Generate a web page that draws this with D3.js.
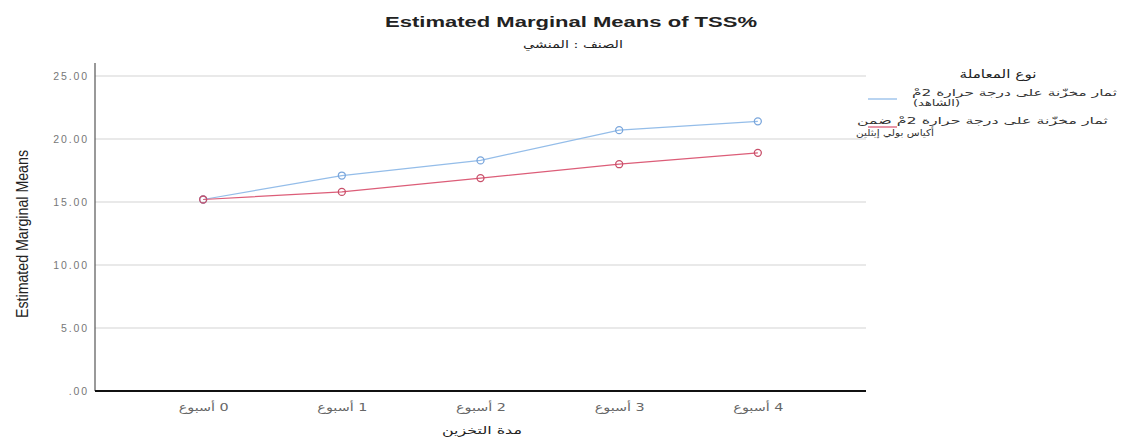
<!DOCTYPE html>
<html><head><meta charset="utf-8">
<script src="https://cdn.jsdelivr.net/npm/d3@7"></script>
<style>body{margin:0;background:#fff}svg{display:block}</style>
</head><body>
<script>
const categories = ["0 أسبوع","1 أسبوع","2 أسبوع","3 أسبوع","4 أسبوع"];
const seriesNames = [
  ["ثمار مخزّنة على درجة حرارة 2مْ", "(الشاهد)"],
  ["ثمار مخزّنة على درجة حرارة 2مْ ضمن", "أكياس بولي إيثلين"]
];
const controlValues = [15.2, 17.1, 18.3, 20.7, 21.4];
const bagValues = [15.2, 15.8, 16.9, 18.0, 18.9];
const yTicks = [0, 5, 10, 15, 20, 25];
const colors = ["#94bde9", "#dc5d78"];

(function(){
const W = 1143, H = 439;
const svg = d3.select("body").append("svg").attr("width", W).attr("height", H);
const pLeft = 95, pRight = 866, pTop = 63, pBottom = 391;

const x = d3.scalePoint().domain(categories).range([pLeft, pRight]).padding(0.78);
const y = d3.scaleLinear().domain([0, 25]).range([pBottom, 76]);

// gridlines
svg.append("g").selectAll("line").data(yTicks.filter(d => d > 0)).join("line")
  .attr("x1", pLeft).attr("x2", pRight).attr("y1", d => y(d)).attr("y2", d => y(d))
  .attr("stroke", "#e2e2e2").attr("stroke-width", 1.5);

// y axis
const ya = svg.append("g").attr("transform", `translate(${pLeft},0)`)
  .call(d3.axisLeft(y).tickValues(yTicks).tickSize(0).tickPadding(6)
    .tickFormat(d => d === 0 ? ".00" : d3.format(".2f")(d)));
ya.select(".domain").attr("stroke", "#555").attr("stroke-width", 1.2).attr("d", `M0,${pTop}V${pBottom}`);
ya.selectAll("text").attr("font-family", "Liberation Sans, Arial, sans-serif").attr("font-size", 10.5)
  .attr("letter-spacing", 1.9).attr("fill", "#777");

// x axis
const xa = svg.append("g").attr("transform", `translate(0,${pBottom})`)
  .call(d3.axisBottom(x).tickSize(0).tickPadding(12));
xa.select(".domain").attr("stroke", "#111").attr("stroke-width", 2.2).attr("d", `M${pLeft},0H${pRight}`);
xa.selectAll("text").attr("font-family", "DejaVu Sans, sans-serif").attr("font-size", 11)
  .attr("direction", "rtl").attr("textLength", 50).attr("lengthAdjust", "spacingAndGlyphs")
  .attr("fill", "#666");

// lines
const series = [controlValues, bagValues];
const line = d3.line().x((d, i) => x(categories[i])).y(d => y(d));
series.forEach((vals, si) => {
  svg.append("path").datum(vals).attr("d", line).attr("fill", "none")
    .attr("stroke", colors[si]).attr("stroke-width", 1.2);
});
series.forEach((vals, si) => {
  svg.append("g").selectAll("circle").data(vals).join("circle")
    .attr("cx", (d, i) => x(categories[i])).attr("cy", d => y(d)).attr("r", 3.5)
    .attr("fill", "none").attr("stroke", si === 1 ? "#c8506a" : "#7aa6dc").attr("stroke-width", 1.3);
});

// titles
svg.append("text").attr("x", 571).attr("y", 27).attr("text-anchor", "middle")
  .attr("font-family", "Liberation Sans, Arial, sans-serif").attr("font-weight", "bold")
  .attr("font-size", 14.5).attr("textLength", 372).attr("lengthAdjust", "spacingAndGlyphs")
  .attr("fill", "#222").text("Estimated Marginal Means of TSS%");
svg.append("text").attr("x", 573).attr("y", 48).attr("text-anchor", "middle")
  .attr("font-family", "DejaVu Sans, sans-serif").attr("font-size", 10.5)
  .attr("textLength", 100).attr("lengthAdjust", "spacingAndGlyphs").attr("fill", "#222")
  .text("الصنف : المنشي");

svg.append("text").attr("transform", "translate(28,234) rotate(-90)").attr("text-anchor", "middle")
  .attr("font-family", "Liberation Sans Narrow, Liberation Sans, Arial, sans-serif")
  .attr("font-size", 16).attr("textLength", 168).attr("lengthAdjust", "spacingAndGlyphs")
  .attr("fill", "#222").text("Estimated Marginal Means");

svg.append("text").attr("x", 482).attr("y", 434).attr("text-anchor", "middle")
  .attr("font-family", "DejaVu Sans, sans-serif").attr("font-size", 10.5)
  .attr("textLength", 80).attr("lengthAdjust", "spacingAndGlyphs").attr("fill", "#222")
  .text("مدة التخزين");

// legend
svg.append("text").attr("x", 998).attr("y", 78).attr("text-anchor", "middle")
  .attr("font-family", "DejaVu Sans, sans-serif").attr("font-size", 11.5)
  .attr("textLength", 77).attr("lengthAdjust", "spacingAndGlyphs").attr("fill", "#222")
  .text("نوع المعاملة");
const legY = [99, 127];
const l1Base = [96, 124], l2Base = [106, 136];
const l1Left = [912, 857], l1Len = [205, 251];
const l2Left = [913, 856], l2Len = [47, 78];
seriesNames.forEach((nm, i) => {
  svg.append("text").attr("x", l1Left[i]).attr("y", l1Base[i])
    .attr("textLength", l1Len[i]).attr("lengthAdjust", "spacingAndGlyphs")
    .attr("direction", "rtl").attr("text-anchor", "end")
    .attr("font-family", "DejaVu Sans, sans-serif")
    .attr("font-size", 9.5).attr("fill", "#333").text(nm[0]);
  svg.append("text").attr("x", l2Left[i]).attr("y", l2Base[i])
    .attr("textLength", l2Len[i]).attr("lengthAdjust", "spacingAndGlyphs")
    .attr("direction", "rtl").attr("text-anchor", "end").attr("font-family", "DejaVu Sans, sans-serif")
    .attr("font-size", 9.5).attr("fill", "#333").text(nm[1]);
  svg.append("line").attr("x1", 868).attr("x2", 897).attr("y1", legY[i]).attr("y2", legY[i])
    .attr("stroke", colors[i]).attr("stroke-width", 1.3);
});
})();
</script>
</body></html>
